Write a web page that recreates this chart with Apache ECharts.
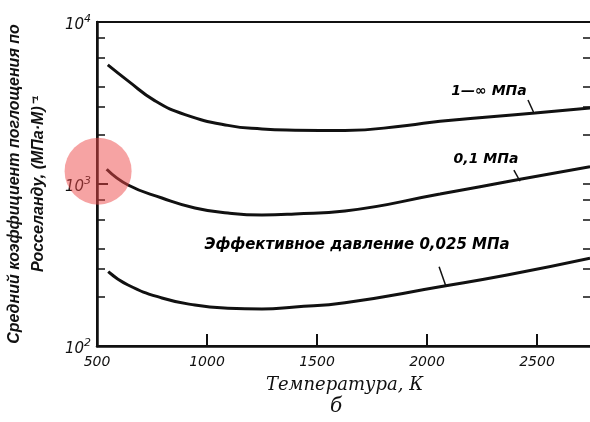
<!DOCTYPE html>
<html>
<head>
<meta charset="utf-8">
<script src="https://cdn.jsdelivr.net/npm/echarts@6/dist/echarts.min.js"></script>
<style>
  html, body { margin: 0; padding: 0; background: #fff; }
  #chart { width: 590px; height: 422px; }
</style>
</head>
<body>
<div id="chart"></div>
<script>
// temperatures (K) and Rosseland mean absorption coefficient, (MPa*m)^-1
const tempsHigh = [549, 641, 764, 900, 1095, 1250, 1400, 1627, 1909, 2059, 2491, 2741];
const coefHigh = [5430, 4330, 3260, 2680, 2300, 2186, 2150, 2138, 2300, 2440, 2743, 2944];

const tempsMid = [544, 641, 795, 945, 1095, 1250, 1400, 1627, 2059, 2423, 2741];
const coefMid = [1233, 986, 820, 711, 662, 644, 653, 681, 867, 1070, 1279];

const tempsLow = [551, 641, 795, 945, 1095, 1250, 1400, 1627, 2059, 2364, 2741];
const coefLow = [288, 238, 198, 179, 171, 169, 174, 185, 232, 274, 348];

const curveLabels = ['1—∞ МПа', '0,1 МПа', 'Эффективное давление 0,025 МПа'];
const labelTemps = [2282, 2268, 1682];
const labelCoefs = [3750, 1426, 420];
const labelSizes = [14, 14, 15];
// leader line from label to curve: [T1, v1, T2, v2]
const leaders = [
  [2459, 3303, 2486, 2743],
  [2395, 1219, 2423, 1040],
  [2055, 308, 2086, 234]
];

const minorTicks = [200, 300, 400, 600, 800, 2000, 3000, 4000, 6000, 8000];
const decadeTicks = [100, 1000, 10000];

// highlighted spot (red circle)
const markTemp = 505;
const markCoef = 1200;

const zip = (xs, ys) => xs.map((x, i) => [x, ys[i]]);
const log10 = (v) => Math.log10(v);

const chart = echarts.init(document.getElementById('chart'), null, { renderer: 'canvas' });

const lineStyle = { color: '#111', width: 3 };

function curve(xs, ys, idx, extra) {
  const l = leaders[idx];
  return Object.assign({
    type: 'line',
    data: zip(xs, ys),
    smooth: 0.5,
    showSymbol: false,
    lineStyle: lineStyle,
    silent: true,
    markLine: {
      silent: true,
      symbol: 'none',
      label: { show: false },
      lineStyle: { color: '#111', width: 1.5, type: 'solid' },
      data: [[{ coord: [l[0], l[1]] }, { coord: [l[2], l[3]] }]]
    }
  }, extra || {});
}

const option = {
  animation: false,
  backgroundColor: '#fff',
  title: {
    text: 'б',
    left: 325,
    top: 392,
    textStyle: { fontFamily: 'DejaVu Serif', fontStyle: 'italic', fontWeight: 'normal', fontSize: 20, color: '#111' }
  },
  grid: {
    left: 97, right: -2, top: 22, bottom: 76,
    outerBoundsMode: 'none',
    containLabel: false,
    show: true, borderColor: '#111', borderWidth: 2, backgroundColor: 'transparent'
  },
  xAxis: {
    type: 'value',
    min: 500, max: 2750, interval: 500,
    name: 'Температура, К',
    nameLocation: 'middle',
    nameGap: 30,
    nameTextStyle: { fontFamily: 'DejaVu Serif', fontStyle: 'italic', fontSize: 18, color: '#111' },
    axisLine: { lineStyle: { color: '#111', width: 2.5 } },
    axisTick: { inside: true, length: 12, lineStyle: { color: '#111', width: 2 } },
    axisLabel: {
      showMaxLabel: false, margin: 9,
      formatter: (v) => String(v),
      fontFamily: 'DejaVu Sans', fontStyle: 'italic', fontSize: 14, color: '#111'
    },
    splitLine: { show: false }
  },
  yAxis: [
    {
      type: 'log', logBase: 10, min: 100, max: 10000,
      name: 'Средний коэффициент поглощения по\nРосселанду, (МПа·М)⁻¹',
      nameLocation: 'middle',
      nameRotate: 90,
      nameGap: 46,
      nameTextStyle: {
        fontFamily: 'Liberation Sans', fontStyle: 'italic', fontWeight: 'bold',
        fontSize: 16, lineHeight: 24, color: '#111'
      },
      axisLine: { lineStyle: { color: '#111', width: 2.5 } },
      axisTick: { inside: true, length: 11, lineStyle: { color: '#111', width: 2 } },
      minorTick: { show: false },
      axisLabel: {
        margin: 6,
        formatter: (v) => '{b|10}{s|' + Math.round(log10(v)) + '}',
        rich: {
          b: { fontFamily: 'DejaVu Sans', fontStyle: 'italic', fontSize: 15, color: '#111', padding: [6, 0, 0, 0] },
          s: { fontFamily: 'DejaVu Sans', fontStyle: 'italic', fontSize: 11, color: '#111', padding: [0, 0, 6, 0] }
        }
      },
      splitLine: { show: false }
    },
    {
      type: 'value', min: 2, max: 4, position: 'left',
      axisLine: { show: false },
      axisTick: { show: true, inside: true, length: 8, customValues: minorTicks.map(log10), lineStyle: { color: '#111', width: 1.5 } },
      axisLabel: { show: false },
      splitLine: { show: false }
    },
    {
      type: 'value', min: 2, max: 4, position: 'right',
      axisLine: { show: false },
      axisTick: { show: true, inside: true, length: 9, customValues: minorTicks.concat(decadeTicks).map(log10), lineStyle: { color: '#111', width: 1.5 } },
      axisLabel: { show: false },
      splitLine: { show: false }
    }
  ],
  series: [
    curve(tempsHigh, coefHigh, 0),
    curve(tempsMid, coefMid, 1, {
      markPoint: {
        silent: true,
        symbol: 'circle',
        symbolSize: 67,
        itemStyle: { color: 'rgba(238, 72, 72, 0.5)' },
        label: { show: false },
        data: [{ coord: [markTemp, markCoef] }]
      }
    }),
    curve(tempsLow, coefLow, 2),
    {
      type: 'scatter',
      symbolSize: 0,
      silent: true,
      itemStyle: { opacity: 1 },
      data: curveLabels.map((t, i) => ({
        name: t,
        value: [labelTemps[i], labelCoefs[i]],
        label: { fontSize: labelSizes[i] }
      })),
      label: {
        show: true,
        position: 'inside',
        formatter: '{b}',
        fontFamily: 'DejaVu Sans', fontStyle: 'italic', fontWeight: 'bold',
        fontSize: 14, color: '#000', opacity: 1
      }
    }
  ]
};

chart.setOption(option);
</script>
</body>
</html>
